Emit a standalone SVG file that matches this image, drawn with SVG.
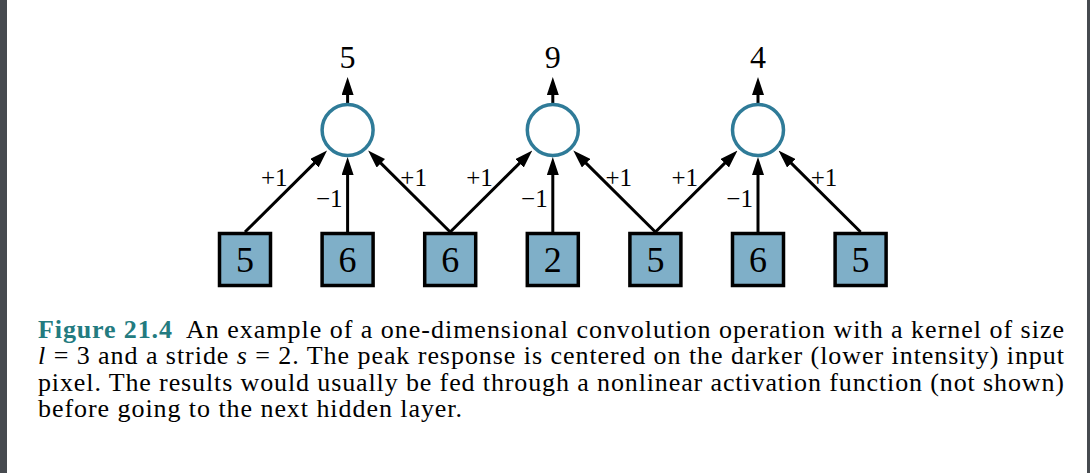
<svg xmlns="http://www.w3.org/2000/svg" width="1090" height="473" viewBox="0 0 1090 473">
<style>
.box{fill:#7fafc8;stroke:#000;stroke-width:3.5}
.unit{fill:#fff;stroke:#2f7b98;stroke-width:3.5}
.dig{font-family:"Liberation Serif",serif;font-size:36px;text-anchor:middle;fill:#000}
.out{font-family:"Liberation Serif",serif;font-size:32px;text-anchor:middle;fill:#000}
.w{font-family:"Liberation Serif",serif;font-size:25px;text-anchor:middle;fill:#000}
.edge{stroke:#000;stroke-width:3;fill:none;marker-end:url(#ah)}
.cap{font-family:"Liberation Serif",serif;font-size:26px;fill:#000}
.fig{font-weight:bold;fill:#237b80}
</style>
<defs>
<marker id="ah" markerUnits="userSpaceOnUse" viewBox="0 0 18 12" refX="9" refY="6" markerWidth="18" markerHeight="12" orient="auto">
<path d="M0,0 L18,6 L0,12 z" fill="#000"/>
</marker>
</defs>
<rect x="0" y="0" width="7" height="473" fill="#464a4f"/>
<rect x="1087" y="0" width="3" height="473" fill="#464a4f"/>

<g id="connectors">
<line class="edge" x1="347.6" y1="103.5" x2="347.6" y2="86"/>
<line class="edge" x1="552.8" y1="103.5" x2="552.8" y2="86"/>
<line class="edge" x1="758" y1="103.5" x2="758" y2="86"/>
<line class="edge" x1="245" y1="232" x2="320.7" y2="156.9"/>
<line class="edge" x1="347.6" y1="232" x2="347.6" y2="166"/>
<line class="edge" x1="450.2" y1="232" x2="374.5" y2="156.9"/>
<line class="edge" x1="450.2" y1="232" x2="525.9" y2="156.9"/>
<line class="edge" x1="552.8" y1="232" x2="552.8" y2="166"/>
<line class="edge" x1="655.4" y1="232" x2="579.7" y2="156.9"/>
<line class="edge" x1="655.4" y1="232" x2="731.1" y2="156.9"/>
<line class="edge" x1="758" y1="232" x2="758" y2="166"/>
<line class="edge" x1="860.6" y1="232" x2="784.9" y2="156.9"/>
<text class="w" x="274.3" y="186">+1</text>
<text class="w" x="329.2" y="207">−1</text>
<text class="w" x="413.6" y="186">+1</text>
<text class="w" x="479.5" y="186">+1</text>
<text class="w" x="534.4" y="207">−1</text>
<text class="w" x="618.8" y="186">+1</text>
<text class="w" x="684.7" y="186">+1</text>
<text class="w" x="739.6" y="207">−1</text>
<text class="w" x="824" y="186">+1</text>
</g>

<g id="out1"><circle class="unit" cx="347.6" cy="130" r="25.5"/><text class="out" x="347.6" y="67.5">5</text></g>
<g id="out2"><circle class="unit" cx="552.8" cy="130" r="25.5"/><text class="out" x="552.8" y="67.5">9</text></g>
<g id="out3"><circle class="unit" cx="758" cy="130" r="25.5"/><text class="out" x="758" y="67.5">4</text></g>

<g id="in1"><rect class="box" x="219.5" y="233.5" width="51" height="52"/><text class="dig" x="245" y="272">5</text></g>
<g id="in2"><rect class="box" x="322.1" y="233.5" width="51" height="52"/><text class="dig" x="347.6" y="272">6</text></g>
<g id="in3"><rect class="box" x="424.7" y="233.5" width="51" height="52"/><text class="dig" x="450.2" y="272">6</text></g>
<g id="in4"><rect class="box" x="527.3" y="233.5" width="51" height="52"/><text class="dig" x="552.8" y="272">2</text></g>
<g id="in5"><rect class="box" x="629.9" y="233.5" width="51" height="52"/><text class="dig" x="655.4" y="272">5</text></g>
<g id="in6"><rect class="box" x="732.5" y="233.5" width="51" height="52"/><text class="dig" x="758" y="272">6</text></g>
<g id="in7"><rect class="box" x="835.1" y="233.5" width="51" height="52"/><text class="dig" x="860.6" y="272">5</text></g>

<g id="caption">
<text class="cap fig" x="38" y="337.5" textLength="134" lengthAdjust="spacing">Figure 21.4</text>
<text class="cap" x="186" y="337.5" textLength="878" lengthAdjust="spacing">An example of a one-dimensional convolution operation with a kernel of size</text>
<text class="cap" x="38" y="364" textLength="1026" lengthAdjust="spacing"><tspan font-style="italic">l</tspan> = 3 and a stride <tspan font-style="italic">s</tspan> = 2.  The peak response is centered on the darker (lower intensity) input</text>
<text class="cap" x="38" y="390.5" textLength="1026" lengthAdjust="spacing">pixel.  The results would usually be fed through a nonlinear activation function (not shown)</text>
<text class="cap" x="38" y="417" textLength="424" lengthAdjust="spacing">before going to the next hidden layer.</text>
</g>
</svg>
